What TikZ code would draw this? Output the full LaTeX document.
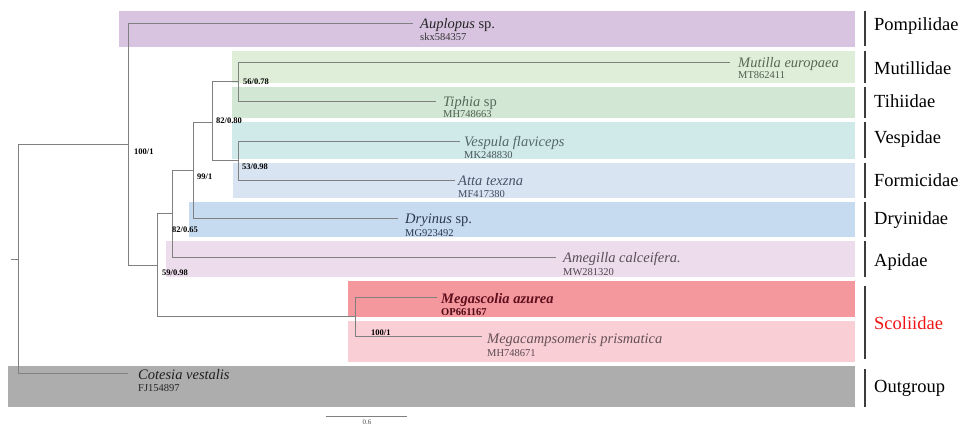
\documentclass[tikz,border=0pt]{standalone}
\usepackage{fontspec}
\setmainfont{Liberation Serif}
\definecolor{treegray}{HTML}{808080}
\definecolor{barcol}{HTML}{3C3C3C}
\definecolor{cPomp}{HTML}{D8C4E0}
\definecolor{cMut}{HTML}{DFEED8}
\definecolor{cTip}{HTML}{D2E8D4}
\definecolor{cVes}{HTML}{D0E9E9}
\definecolor{cFor}{HTML}{D9E4F3}
\definecolor{cDry}{HTML}{C6DBEF}
\definecolor{cApi}{HTML}{ECDCEC}
\definecolor{cMeg}{HTML}{F4989E}
\definecolor{cMca}{HTML}{F9CED5}
\definecolor{cOut}{HTML}{ADADAD}
\definecolor{scored}{HTML}{F01414}
\begin{document}
\begin{tikzpicture}[x=1pt,y=-1pt,
  br/.style={draw=treegray, line width=0.8pt},
  sp/.style={anchor=base west, inner sep=0pt, font=\fontsize{14.5}{16}\selectfont\itshape},
  acc/.style={anchor=base west, inner sep=0pt, font=\fontsize{10.5}{12}\selectfont},
  sup/.style={anchor=west, inner sep=0pt, font=\fontsize{8.5}{10}\selectfont\bfseries},
  fam/.style={anchor=west, inner sep=0pt, font=\fontsize{18.5}{20}\selectfont},
  famline/.style={draw=barcol, line width=1.3pt}]
\useasboundingbox (0,0) rectangle (961,425);
% bands
\fill[cPomp] (119,11) rectangle (855,47);
\fill[cMut] (232,51) rectangle (855,83);
\fill[cTip] (232,87) rectangle (855,118);
\fill[cVes] (232,122) rectangle (855,159);
\fill[cFor] (233,163) rectangle (855,198);
\fill[cDry] (189,202) rectangle (855,237);
\fill[cApi] (166,241) rectangle (855,277);
\fill[cMeg] (348,281) rectangle (855,317);
\fill[cMca] (348,321) rectangle (855,362);
\fill[cOut] (8,366) rectangle (855,407);
% internal nodes
\coordinate (rs) at (11,259);
\coordinate (r) at (18,259);
\coordinate (nA) at (128,144);
\coordinate (nB) at (157,265);
\coordinate (nC) at (172,213);
\coordinate (nD) at (193,170);
\coordinate (nE) at (212,122);
\coordinate (nF) at (238,81);
\coordinate (nG) at (238,160);
\coordinate (nS) at (355,316);
% tips
\coordinate (tAup) at (413,23);
\coordinate (tMut) at (730,62);
\coordinate (tTip) at (436,101);
\coordinate (tVes) at (460,141);
\coordinate (tAtt) at (455,180);
\coordinate (tDry) at (398,218);
\coordinate (tAme) at (556,257);
\coordinate (tMeg) at (437,297);
\coordinate (tMca) at (482,336);
\coordinate (tCot) at (128,373);
% branches
\draw[br] (rs) -- (r);
\draw[br] (r) |- (nA);
\draw[br] (r) |- (tCot);
\draw[br] (nA) |- (tAup);
\draw[br] (nA) |- (nB);
\draw[br] (nB) |- (nC);
\draw[br] (nB) |- (nS);
\draw[br] (nC) |- (nD);
\draw[br] (nC) |- (tAme);
\draw[br] (nD) |- (nE);
\draw[br] (nD) |- (tDry);
\draw[br] (nE) |- (nF);
\draw[br] (nE) |- (nG);
\draw[br] (nF) |- (tMut);
\draw[br] (nF) |- (tTip);
\draw[br] (nG) |- (tVes);
\draw[br] (nG) |- (tAtt);
\draw[br] (nS) |- (tMeg);
\draw[br] (nS) |- (tMca);
% support values
\node[sup] (s1) at (134,152) {100/1};
\node[sup] (s2) at (162,273) {59/0.98};
\node[sup] (s3) at (172,230) {82/0.65};
\node[sup] (s4) at (197,177) {99/1};
\node[sup] (s5) at (216,121) {82/0.80};
\node[sup] (s6) at (243,82) {56/0.78};
\node[sup] (s7) at (242,167) {53/0.98};
\node[sup] (s8) at (371,333) {100/1};
% species labels
\node[sp, text=black!85] (lAup) at (420,28.5) {Auplopus \upshape sp.};
\node[acc, text=black!80] (aAup) at (420,40.5) {skx584357};
\node[sp, text={rgb,255:red,88;green,104;blue,86}] (lMut) at (738,67.5) {Mutilla europaea};
\node[acc, text={rgb,255:red,80;green,92;blue,80}] (aMut) at (738,79) {MT862411};
\node[sp, text={rgb,255:red,88;green,104;blue,90}] (lTip) at (443,106.5) {Tiphia \upshape sp};
\node[acc, text={rgb,255:red,80;green,92;blue,82}] (aTip) at (443,118) {MH748663};
\node[sp, text={rgb,255:red,84;green,104;blue,106}] (lVes) at (464,146.5) {Vespula flaviceps};
\node[acc, text={rgb,255:red,70;green,86;blue,88}] (aVes) at (464,158.5) {MK248830};
\node[sp, text={rgb,255:red,72;green,82;blue,104}] (lAtt) at (458,185.5) {Atta texzna};
\node[acc, text={rgb,255:red,64;green,74;blue,92}] (aAtt) at (458,197.5) {MF417380};
\node[sp, text={rgb,255:red,40;green,56;blue,80}] (lDry) at (405,223.5) {Dryinus \upshape sp.};
\node[acc, text={rgb,255:red,40;green,56;blue,80}] (aDry) at (405,236.5) {MG923492};
\node[sp, text={rgb,255:red,88;green,78;blue,88}] (lAme) at (563,262.5) {Amegilla calceifera.};
\node[acc, text={rgb,255:red,80;green,70;blue,80}] (aAme) at (563,275) {MW281320};
\node[sp, font=\fontsize{14.5}{16}\selectfont\bfseries\itshape, text={rgb,255:red,94;green,14;blue,28}] (lMeg) at (441,303) {Megascolia azurea};
\node[acc, font=\fontsize{10.5}{12}\selectfont\bfseries, text={rgb,255:red,80;green,10;blue,22}] (aMeg) at (441,315) {OP661167};
\node[sp, text={rgb,255:red,100;green,80;blue,86}] (lMca) at (487,343.5) {Megacampsomeris prismatica};
\node[acc, text={rgb,255:red,90;green,74;blue,80}] (aMca) at (487,356) {MH748671};
\node[sp, text=black!88] (lCot) at (138,379) {Cotesia vestalis};
\node[acc, text=black!85] (aCot) at (138,391) {FJ154897};
% family bars and labels
\draw[famline] (865,11) -- (865,46);
\draw[famline] (865,51) -- (865,83);
\draw[famline] (865,87) -- (865,118);
\draw[famline] (865,122) -- (865,158);
\draw[famline] (865,163) -- (865,198);
\draw[famline] (865,202) -- (865,237);
\draw[famline] (865,241) -- (865,277);
\draw[famline] (865,286) -- (865,359);
\draw[famline] (865,369) -- (865,407);
\node[fam] (fPomp) at (874,26) {Pompilidae};
\node[fam] (fMut) at (874,68) {Mutillidae};
\node[fam] (fTip) at (874,101) {Tihiidae};
\node[fam] (fVes) at (874,139) {Vespidae};
\node[fam] (fFor) at (874,180) {Formicidae};
\node[fam] (fDry) at (874,220) {Dryinidae};
\node[fam] (fApi) at (874,262) {Apidae};
\node[fam, text=scored] (fSco) at (874,323) {Scoliidae};
\node[fam] (fOut) at (874,388) {Outgroup};
% scale bar
\coordinate (sbL) at (326,416);
\coordinate (sbR) at (407,416);
\draw[draw=treegray, line width=0.8pt] (sbL) -- (sbR);
\node[inner sep=0pt, font=\fontsize{7}{8}\selectfont, text=black!70] (sbT) at (367,422.5) {0.6};
\end{tikzpicture}
\end{document}
